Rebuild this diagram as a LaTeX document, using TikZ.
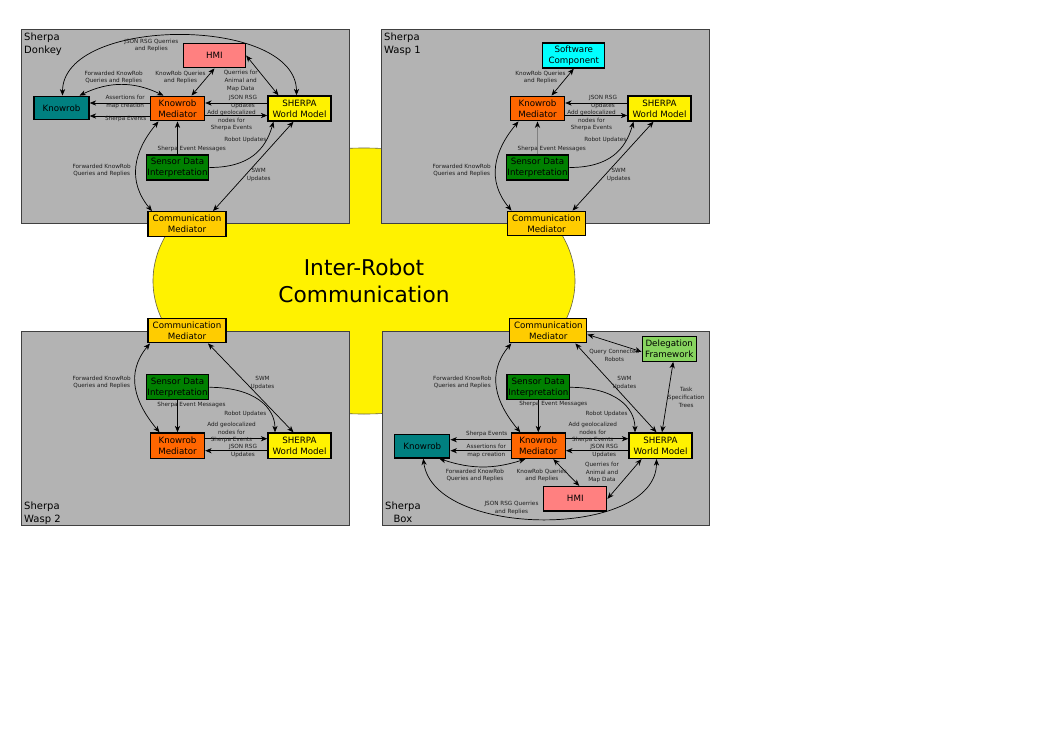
\documentclass[tikz,border=0pt]{standalone}
\usepackage{fontspec}
\setmainfont{DejaVu Sans}
\usepackage{tikz}
\usetikzlibrary{arrows.meta,shapes.geometric}

\newcommand{\boxfont}{\fontsize{8.7}{11}\selectfont}
\newcommand{\lblfont}{\fontsize{5.7}{7.7}\selectfont}
\newcommand{\panelfont}{\fontsize{10}{13}\selectfont}
\newcommand{\bigfont}{\fontsize{21.7}{27.5}\selectfont}

\definecolor{hmipink}{HTML}{FF8080}
\definecolor{kbteal}{HTML}{008080}
\definecolor{kmorange}{HTML}{FF6600}
\definecolor{sdgreen}{HTML}{008000}
\definecolor{cmgold}{HTML}{FFCC00}
\definecolor{swcyan}{HTML}{00FFFF}
\definecolor{dfgreen}{HTML}{87D45F}
\definecolor{panelgray}{HTML}{B3B3B3}

\begin{document}
\begin{tikzpicture}[x=1pt,y=-1pt,
    >={Stealth[length=6.5pt,width=5.2pt,inset=2pt]},
    box/.style={draw=black,line width=1.3pt,inner sep=1pt,align=center,font=\boxfont,minimum height=24.5pt},
    lbl/.style={inner sep=0pt,align=center,font=\lblfont,text=black!88},
    conn/.style={line width=0.7pt},
    panel/.style={fill=panelgray,draw=black!75,line width=0.8pt},
    plabel/.style={anchor=north west,inner sep=0pt,align=left,font=\panelfont}]
  %\draw[step=50,gray,very thin] (0,0) grid (1050,745);
  \fill[white] (0,0) rectangle (1053,745);
  \useasboundingbox (0,0) rectangle (1053,745);

  \node[ellipse,fill=yellow,draw=black!70!yellow,line width=0.6pt,inner sep=0pt,
    minimum width=422pt,minimum height=266pt,font=\bigfont,align=center] (irc) at (364,281) {Inter-Robot\\Communication};

  \draw[panel] (21,29) rectangle (349,223);
  \draw[panel] (381,29) rectangle (709,223);
  \draw[panel] (21,331) rectangle (349,525.5);
  \draw[panel] (382.5,331) rectangle (709.5,525.5);

  \node[plabel] (dname) at (24,33) {Sherpa\\Donkey};
  \node[plabel] (waname) at (384,33) {Sherpa\\Wasp 1};
  \node[plabel] (wbname) at (24,501.5) {Sherpa\\Wasp 2};
  \node[plabel,align=center] (bname) at (385,501.5) {Sherpa\\Box};

  % Sherpa Donkey
  \node[box,fill=hmipink,minimum width=62pt] (dhmi) at (214.5,55.5) {HMI};
  \node[box,fill=kbteal,minimum width=55pt,minimum height=23.5pt] (dkr) at (61.5,108) {Knowrob};
  \node[box,fill=kmorange,minimum width=54pt] (dkm) at (177.5,108.5) {Knowrob\\Mediator};
  \node[box,fill=yellow,minimum width=63pt,minimum height=25pt] (dswm) at (299.5,108.5) {SHERPA\\World Model};
  \node[box,fill=sdgreen,minimum width=62.5pt,minimum height=25pt] (dsdi) at (177.5,167.5) {Sensor Data\\Interpretation};
  \node[box,fill=cmgold,minimum width=78pt] (dcm) at (187,224) {Communication\\Mediator};

  \draw[conn,<->] (dhmi.south) -- ([xshift=14pt]dkm.north);
  \draw[conn,<->] (dhmi.east) -- ([xshift=-21pt]dswm.north);
  \draw[conn,<->] ([xshift=1pt]dkr.north) .. controls +(0,-80) and +(0,-80) .. ([xshift=-3pt]dswm.north);
  \draw[conn,<->] ([xshift=18pt]dkr.north) to[bend left=26] ([xshift=-14pt]dkm.north);
  \draw[conn,->] ([yshift=5.5pt]dkm.west) -- ([yshift=5pt]dkr.east);
  \draw[conn,->] ([yshift=-7.5pt]dkm.west) -- ([yshift=-8pt]dkr.east);
  \draw[conn,->] ([yshift=5.5pt]dswm.west) -- ([yshift=5.5pt]dkm.east);
  \draw[conn,->] ([yshift=-7pt]dkm.east) -- ([yshift=-7pt]dswm.west);
  \draw[conn,->] (dsdi.north) -- (dkm.south);
  \draw[conn,->] (dsdi.east) .. controls +(40,0) and +(-8,28) .. ([xshift=-26pt]dswm.south);
  \draw[conn,<->] ([xshift=-35pt]dcm.north) .. controls +(-25,-30) and +(-25,30) .. ([xshift=-19pt]dkm.south);
  \draw[conn,<->] ([xshift=26pt]dcm.north) -- ([xshift=-6pt]dswm.south);

  \node[lbl] (dl1) at (151.3,45.5) {JSON RSG Querries\\and Replies};
  \node[lbl] (dl2) at (113.7,77.5) {Forwarded KnowRob\\Queries and Replies};
  \node[lbl] (dl3) at (180.5,77.5) {KnowRob Queries\\and Replies};
  \node[lbl] (dl4) at (240.7,81) {Querries for\\Animal and\\Map Data};
  \node[lbl] (dl5) at (125.2,102) {Assertions for\\map creation};
  \node[lbl] (dl6) at (125.7,118.7) {Sherpa Events};
  \node[lbl] (dl7) at (243,101.7) {JSON RSG\\Updates};
  \node[lbl] (dl8) at (231.5,120.7) {Add geolocalized\\nodes for\\Sherpa Events};
  \node[lbl] (dl9) at (191.7,148.7) {Sherpa Event Messages};
  \node[lbl] (dl10) at (245.3,139.7) {Robot Updates};
  \node[lbl] (dl11) at (101.7,170.5) {Forwarded KnowRob\\Queries and Replies};
  \node[lbl] (dl12) at (258.7,174.7) {SWM\\Updates};

  % Sherpa Wasp 1
  \node[box,fill=swcyan,minimum width=62pt,minimum height=25pt] (wasc) at (573.8,55.5) {Software\\Component};
  \node[box,fill=kmorange,minimum width=54pt] (wakm) at (537.5,108.5) {Knowrob\\Mediator};
  \node[box,fill=yellow,minimum width=63pt,minimum height=25pt] (waswm) at (659.5,108.5) {SHERPA\\World Model};
  \node[box,fill=sdgreen,minimum width=62.5pt,minimum height=25pt] (wasdi) at (537.5,167.5) {Sensor Data\\Interpretation};
  \node[box,fill=cmgold,minimum width=78pt] (wacm) at (546.5,223.5) {Communication\\Mediator};

  \draw[conn,<->] (wasc.south) -- ([xshift=14pt]wakm.north);
  \draw[conn,->] ([yshift=5.5pt]waswm.west) -- ([yshift=5.5pt]wakm.east);
  \draw[conn,->] ([yshift=-7pt]wakm.east) -- ([yshift=-7pt]waswm.west);
  \draw[draw=black!50,line width=1.2pt,-{Stealth[length=6.5pt,width=5.2pt,inset=2pt,black]}] (wasdi.north) -- (wakm.south);
  \draw[conn,->] (wasdi.east) .. controls +(40,0) and +(-8,28) .. ([xshift=-26pt]waswm.south);
  \draw[conn,<->] ([xshift=-35pt]wacm.north) .. controls +(-25,-30) and +(-25,30) .. ([xshift=-19pt]wakm.south);
  \draw[conn,<->] ([xshift=26pt]wacm.north) -- ([xshift=-6pt]waswm.south);

  \node[lbl] (wal1) at (540.5,77.5) {KnowRob Queries\\and Replies};
  \node[lbl] (wal2) at (603,101.7) {JSON RSG\\Updates};
  \node[lbl] (wal3) at (591.5,120.7) {Add geolocalized\\nodes for\\Sherpa Events};
  \node[lbl] (wal4) at (551.7,148.7) {Sherpa Event Messages};
  \node[lbl] (wal5) at (605.3,139.7) {Robot Updates};
  \node[lbl] (wal6) at (461.7,170.5) {Forwarded KnowRob\\Queries and Replies};
  \node[lbl] (wal7) at (618.7,174.7) {SWM\\Updates};

  % Sherpa Wasp 2
  \node[box,fill=cmgold,minimum width=78pt] (wbcm) at (187,330.5) {Communication\\Mediator};
  \node[box,fill=sdgreen,minimum width=62.5pt,minimum height=25pt] (wbsdi) at (177.5,387.3) {Sensor Data\\Interpretation};
  \node[box,fill=kmorange,minimum width=54pt,minimum height=25.5pt] (wbkm) at (177.5,445.7) {Knowrob\\Mediator};
  \node[box,fill=yellow,minimum width=63pt,minimum height=25.5pt] (wbswm) at (299.5,445.7) {SHERPA\\World Model};

  \draw[conn,<->] ([xshift=-37pt]wbcm.south) .. controls +(-25,30) and +(-25,-30) .. ([xshift=-18pt]wbkm.north);
  \draw[conn,<->] ([xshift=21pt]wbcm.south) -- ([xshift=-6pt]wbswm.north);
  \draw[conn,->] (wbsdi.south) -- (wbkm.north);
  \draw[conn,->] (wbsdi.east) .. controls +(45,0) and +(0,-25) .. ([xshift=-24.5pt]wbswm.north);
  \draw[conn,->] ([yshift=7pt]wbkm.east) -- ([yshift=7pt]wbswm.west);
  \draw[conn,->] ([yshift=-5pt]wbswm.west) -- ([yshift=-5pt]wbkm.east);

  \node[lbl] (wbl1) at (101.7,382.3) {Forwarded KnowRob\\Queries and Replies};
  \node[lbl] (wbl2) at (262.5,382.7) {SWM\\Updates};
  \node[lbl] (wbl3) at (191.5,405) {Sherpa Event Messages};
  \node[lbl] (wbl4) at (245.3,413.7) {Robot Updates};
  \node[lbl] (wbl5) at (231.5,432.7) {Add geolocalized\\nodes for\\Sherpa Events};
  \node[lbl] (wbl6) at (243,451.2) {JSON RSG\\Updates};

  % Sherpa Box
  \node[box,fill=cmgold,minimum width=77pt] (bcm) at (548.3,330.5) {Communication\\Mediator};
  \node[box,fill=dfgreen,minimum width=54pt,minimum height=25pt] (bdf) at (669.2,348.7) {Delegation\\Framework};
  \node[box,fill=sdgreen,minimum width=62.5pt,minimum height=25pt] (bsdi) at (538.3,387.3) {Sensor Data\\Interpretation};
  \node[box,fill=kbteal,minimum width=55pt,minimum height=23.5pt] (bkr) at (422.3,446.2) {Knowrob};
  \node[box,fill=kmorange,minimum width=54pt,minimum height=25.5pt] (bkm) at (538.3,445.7) {Knowrob\\Mediator};
  \node[box,fill=yellow,minimum width=63pt,minimum height=25.5pt] (bswm) at (660.5,445.7) {SHERPA\\World Model};
  \node[box,fill=hmipink,minimum width=63pt] (bhmi) at (575.3,498.8) {HMI};

  \draw[conn,<->] ([yshift=-4pt]bcm.east) -- ([yshift=-3pt]bdf.west);
  \draw[conn,<->] ([xshift=-37pt]bcm.south) .. controls +(-25,30) and +(-25,-30) .. ([xshift=-18pt]bkm.north);
  \draw[conn,<->] ([xshift=27pt]bcm.south) -- ([xshift=-4pt]bswm.north);
  \draw[conn,->] (bsdi.south) -- (bkm.north);
  \draw[conn,->] (bsdi.east) .. controls +(45,0) and +(0,-25) .. ([xshift=-25.5pt]bswm.north);
  \draw[conn,<->] ([xshift=4pt]bdf.south) -- ([xshift=1.5pt]bswm.north);
  \draw[conn,->] ([yshift=7pt]bkm.east) -- ([yshift=7pt]bswm.west);
  \draw[conn,->] ([yshift=-5pt]bswm.west) -- ([yshift=-5pt]bkm.east);
  \draw[conn,->] ([yshift=6pt]bkm.west) -- ([yshift=6.5pt]bkr.east);
  \draw[conn,->] ([yshift=-5pt]bkm.west) -- ([yshift=-4.5pt]bkr.east);
  \draw[conn,<->] ([xshift=17pt]bkr.south) to[bend right=18] ([xshift=-13pt]bkm.south);
  \draw[conn,<->] ([xshift=15pt]bkm.south) -- ([xshift=4pt]bhmi.north);
  \draw[conn,<->] (bhmi.east) -- ([xshift=-19pt]bswm.south);
  \draw[conn,<->] ([xshift=1pt]bkr.south) .. controls +(10,80) and +(0,80) .. ([xshift=-4pt]bswm.south);

  \node[lbl] (bl1) at (462.3,382.3) {Forwarded KnowRob\\Queries and Replies};
  \node[lbl] (bl2) at (614.3,355.5) {Query Connected\\Robots};
  \node[lbl] (bl3) at (624.5,382.7) {SWM\\Updates};
  \node[lbl] (bl4) at (553.3,404.3) {Sherpa Event Messages};
  \node[lbl] (bl5) at (606.7,413.7) {Robot Updates};
  \node[lbl] (bl6) at (686.2,397.5) {Task\\Specification\\Trees};
  \node[lbl] (bl7) at (592.8,432.7) {Add geolocalized\\nodes for\\Sherpa Events};
  \node[lbl] (bl8) at (604.2,451.2) {JSON RSG\\Updates};
  \node[lbl] (bl9) at (486.8,434.3) {Sherpa Events};
  \node[lbl] (bl10) at (486.3,451.2) {Assertions for\\map creation};
  \node[lbl] (bl11) at (475,475.5) {Forwarded KnowRob\\Queries and Replies};
  \node[lbl] (bl12) at (541.8,475.5) {KnowRob Queries\\and Replies};
  \node[lbl] (bl13) at (602,472.5) {Querries for\\Animal and\\Map Data};
  \node[lbl] (bl14) at (511.5,508) {JSON RSG Querries\\and Replies};
\end{tikzpicture}
\end{document}
